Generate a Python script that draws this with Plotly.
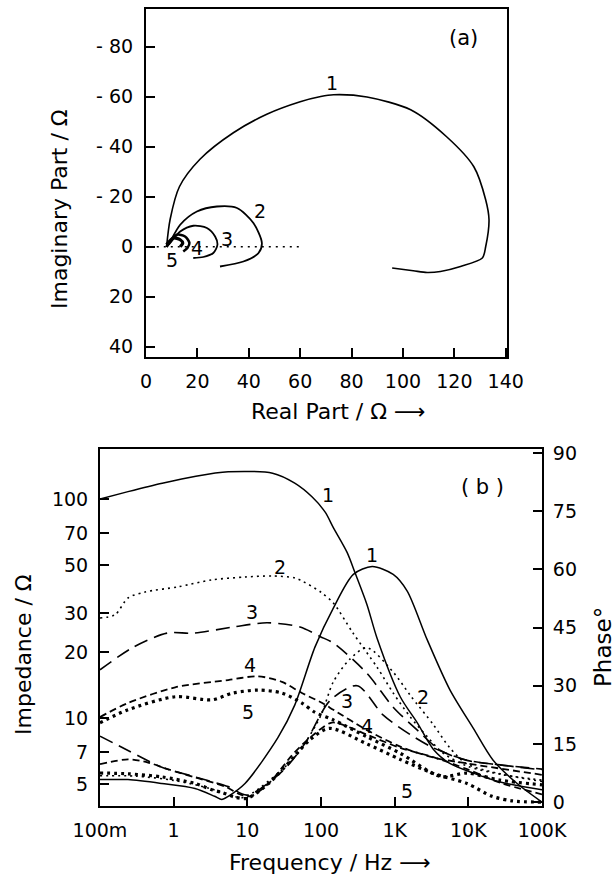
import plotly.graph_objects as go

# ---------------- (a) complex-plane plot: real part vs imaginary part (ohm) ----------------
re1 = [8, 9.4, 13, 21, 34, 47, 60, 68, 73, 86, 103, 117, 127.6, 132.2, 133.5, 132.2, 130.9, 122.4, 114.6, 109.4, 104, 95.8]
im1 = [0, -11, -24, -35, -45.6, -53, -58, -60.1, -60.8, -59.9, -54.8, -44, -32, -18.8, -10.8, 0, 4.5, 7.9, 9.9, 10.3, 9.6, 8.5]

re2 = [8, 8.7, 13.3, 19.8, 27.6, 35.4, 41.8, 45.1, 43.8, 37.9, 28.8]
im2 = [0, -0.8, -8.8, -14.1, -16.1, -15.5, -9.5, -1.5, 2.5, 5.9, 7.9]

re3 = [8, 9, 13.3, 18.4, 23.7, 26.9, 27.8, 26.2, 22.3, 18.4]
im3 = [0, -1, -6.1, -8.4, -7.5, -4.1, -0.8, 2.5, 4.1, 4.5]

re4 = [8, 9, 12, 15.2, 16.9, 16.1, 14.5]
im4 = [0, -1.5, -4.8, -4.1, -1.5, 0.5, 1.9]

re5 = [8, 10.6, 13.3, 14.3, 13.3]
im5 = [-0.8, -3.5, -2.8, -1.5, 0]

re_axis_line = [4.2, 61.3]
im_axis_line = [0, 0]

# ---------------- (b) impedance modulus and phase vs frequency ----------------
f_z1 = [0.1, 0.24, 0.7, 2, 5.5, 22, 44, 76, 114, 147, 226, 290, 420, 580, 1190, 2030, 3340, 5600, 11700, 27000, 100000]
z1 = [100, 108, 118, 127, 133, 131, 118, 102, 87, 74, 57, 46, 33, 23, 12.5, 9.5, 7.2, 6.2, 5.6, 5.1, 4.7]

f_z2 = [0.1, 0.16, 0.24, 0.41, 1.15, 3.3, 9.3, 22, 44, 57, 100, 147, 270, 580, 955, 1630, 2780, 4560, 10000, 30000, 100000]
z2 = [28.6, 29.6, 35.3, 37.6, 39.7, 42.7, 44, 44.5, 43.6, 42, 37.5, 33.5, 24.5, 17, 13, 10.1, 8.2, 6.9, 6.0, 5.5, 5.2]

f_z3 = [0.1, 0.28, 0.81, 1.84, 6.4, 18.5, 52, 98, 147, 420, 955, 2030, 4200, 9600, 27000, 100000]
z3 = [16.6, 21, 24.4, 24.4, 26, 27.2, 26, 23.5, 22, 16, 11.2, 8.8, 7.1, 6.4, 6.1, 5.8]

f_z4 = [0.1, 0.24, 1.05, 5.5, 14, 29.5, 55, 104, 147, 420, 1190, 3340, 9600, 100000]
z4 = [10.1, 11.7, 13.8, 14.9, 15.5, 14.6, 13.0, 11.7, 10.9, 8.8, 7.4, 6.6, 6.2, 5.5]

f_z5 = [0.1, 0.24, 1.05, 3.3, 6.4, 14, 29.5, 55, 83, 147, 420, 1190, 4200, 9600, 27000, 100000]
z5 = [9.5, 10.9, 12.5, 12.1, 13.0, 13.4, 13.0, 11.7, 10.6, 9.8, 8.2, 6.9, 5.4, 5.6, 5.2, 4.95]

f_p1 = [0.1, 0.24, 0.69, 1.95, 3.6, 4.5, 5.5, 9.3, 26, 44, 83, 147, 275, 495, 955, 1480, 2770, 5600, 11700, 21700, 46000, 100000]
p1 = [5.8, 5.8, 4.8, 3.5, 1.5, 0.7, 1.5, 4.8, 16.6, 25, 40, 50, 58.7, 60.7, 58.7, 54.4, 41.8, 29, 19, 10.8, 4.8, 0]

f_p2 = [0.1, 0.3, 1, 3, 6, 9, 11.7, 29.5, 55, 100, 147, 245, 420, 955, 1630, 3340, 5600, 9600, 27000, 100000]
p2 = [6.8, 6.7, 5.6, 3.6, 1.6, 1.2, 2.3, 8.3, 14, 22.4, 31, 36.8, 39.8, 33.5, 27.5, 20, 14, 9.8, 7.3, 5.3]

f_p3 = [0.1, 0.24, 0.69, 1.95, 5.5, 10, 30, 60, 133, 310, 700, 1630, 3340, 9600, 27000, 100000]
p3 = [17, 13.3, 9, 6.5, 4, 1.8, 8, 15, 26.2, 30, 22.4, 17.4, 14, 10.8, 9.6, 8.5]

f_p4 = [0.1, 0.24, 0.45, 0.8, 2, 5, 8, 11, 20, 40, 70, 140, 250, 420, 1190, 3340, 9600, 27000, 100000]
p4 = [9.8, 11, 10.2, 8.6, 6.3, 4, 2, 1.5, 5, 12, 16.5, 20.5, 19.2, 17.4, 14, 11.6, 8.5, 5, 2]

f_p5 = [0.1, 0.24, 0.69, 1.95, 3.3, 4.5, 7, 10, 20, 40, 70, 130, 420, 1190, 3340, 9600, 21000, 40000, 100000]
p5 = [7.5, 7.3, 6.5, 4.8, 3.2, 2.5, 1.2, 1.0, 5, 11, 16, 19, 15, 11, 7.4, 4.8, 1.5, 0.3, 0]

freq_ticks = [0.1, 1, 10, 100, 1000, 10000, 100000]
freq_labels = ["100m", "1", "10", "100", "1K", "10K", "100K"]
z_ticks = [5, 7, 10, 20, 30, 50, 70, 100]
phase_ticks = [0, 15, 30, 45, 60, 75, 90]
re_ticks = [0, 20, 40, 60, 80, 100, 120, 140]
im_ticks = [-80, -60, -40, -20, 0, 20, 40]
im_labels = ["- 80", "- 60", "- 40", "- 20", "0", "20", "40"]

FONT = "DejaVu Sans"
INK = "black"

fig = go.Figure()

# styles: 1 solid, 2 fine dots, 3 long dashes, 4 short dashes, 5 heavy dots
sty = {
    1: dict(color=INK, width=1.5, dash="solid"),
    2: dict(color=INK, width=1.6, dash="2px,4px"),
    3: dict(color=INK, width=1.6, dash="14px,7px"),
    4: dict(color=INK, width=1.8, dash="7px,4px"),
    5: dict(color=INK, width=3.2, dash="3px,4px"),
}

def add(x, y, line, xa, ya, shape="spline"):
    fig.add_trace(go.Scatter(x=x, y=y, mode="lines", line=dict(shape=shape, smoothing=0.8, **line),
                             xaxis=xa, yaxis=ya, showlegend=False, hoverinfo="skip"))

# (a)
add(re_axis_line, im_axis_line, dict(color=INK, width=1.5, dash="2px,5px"), "x", "y", "linear")
add(re1, im1, dict(color=INK, width=1.6), "x", "y")
add(re2, im2, dict(color=INK, width=1.8), "x", "y")
add(re3, im3, dict(color=INK, width=1.8), "x", "y")
add(re4, im4, dict(color=INK, width=2.6), "x", "y")
add(re5, im5, dict(color=INK, width=3.2), "x", "y")

# (b) impedance
for fz, zz, k in [(f_z1, z1, 1), (f_z2, z2, 2), (f_z3, z3, 3), (f_z4, z4, 4), (f_z5, z5, 5)]:
    add(fz, zz, sty[k], "x2", "y2")
# (b) phase
for fp, pp, k in [(f_p1, p1, 1), (f_p2, p2, 2), (f_p3, p3, 3), (f_p4, p4, 4), (f_p5, p5, 5)]:
    add(fp, pp, sty[k], "x2", "y3")

axis_common = dict(showgrid=False, zeroline=False, showline=True, linecolor=INK, linewidth=2,
                   ticks="inside", ticklen=9, tickwidth=2, tickcolor=INK, automargin=False,
                   tickfont=dict(family=FONT, size=19, color=INK))

fig.update_layout(
    width=615, height=874,
    margin=dict(l=0, r=0, t=0, b=0, pad=0, autoexpand=False),
    paper_bgcolor="white", plot_bgcolor="white",
    font=dict(family=FONT, color=INK),
    xaxis=dict(domain=[146 / 615, 507 / 615], range=[0, 140.5], anchor="y", mirror=True,
               tickvals=re_ticks, ticklabelstandoff=6, **axis_common),
    yaxis=dict(domain=[1 - 357 / 874, 1 - 9 / 874], range=[44.1, -95.1], anchor="x", mirror=True,
               tickvals=im_ticks, ticktext=im_labels, ticklabelstandoff=7, **axis_common),
    xaxis2=dict(domain=[100 / 615, 542 / 615], type="log", range=[-1, 5], anchor="y2", mirror=True,
                tickvals=freq_ticks, ticktext=freq_labels, ticklabelstandoff=6, **axis_common),
    yaxis2=dict(domain=[1 - 806 / 874, 1 - 449 / 874], type="log", range=[0.598, 2.228], anchor="x2",
                tickvals=z_ticks, ticktext=[str(v) for v in z_ticks], ticklabelstandoff=6, **axis_common),
    yaxis3=dict(overlaying="y2", side="right", range=[-1, 91], anchor="x2",
                tickvals=phase_ticks, ticklabelstandoff=5, **axis_common),
)

def note(text, x, y, xref, yref, size=19, angle=0):
    fig.add_annotation(text=text, x=x, y=y, xref=xref, yref=yref, showarrow=False,
                       xanchor="center", yanchor="middle",
                       textangle=angle, font=dict(family=FONT, size=size, color=INK))

# curve numbers, panel (a)
note("1", 72.5, -65.5, "x", "y")
note("2", 44.5, -14.5, "x", "y")
note("3", 31.4, -3.3, "x", "y")
note("4", 19.8, 0.5, "x", "y")
note("5", 10, 5.2, "x", "y")
note("(a)", 123.6, -83.5, "x", "y", size=21)

# curve numbers, panel (b)  (x given as log10 of frequency)
note("1", 2.098, 2.018, "x2", "y2")
note("2", 1.446, 1.69, "x2", "y2")
note("3", 1.065, 1.484, "x2", "y2")
note("4", 1.038, 1.242, "x2", "y2")
note("5", 1.01, 1.027, "x2", "y2")
note("1", 2.696, 63.7, "x2", "y3")
note("3", 2.356, 26, "x2", "y3")
note("4", 2.63, 19.6, "x2", "y3")
note("2", 3.39, 27.2, "x2", "y3")
note("5", 3.17, 2.8, "x2", "y3")
note("( b )", 4.19, 2.055, "x2", "y2", size=21)

# axis titles
note("Imaginary Part / Ω", 60 / 615, 1 - 209 / 874, "paper", "paper", size=22, angle=-90)
note("Real Part / Ω ⟶", 338 / 615, 1 - 411 / 874, "paper", "paper", size=22)
note("Impedance / Ω", 23 / 615, 1 - 655 / 874, "paper", "paper", size=22, angle=-90)
note("Phase°", 603 / 615, 1 - 647 / 874, "paper", "paper", size=23, angle=-90)
note("Frequency / Hz ⟶", 330 / 615, 1 - 862 / 874, "paper", "paper", size=22)

fig.write_html("out.html")
